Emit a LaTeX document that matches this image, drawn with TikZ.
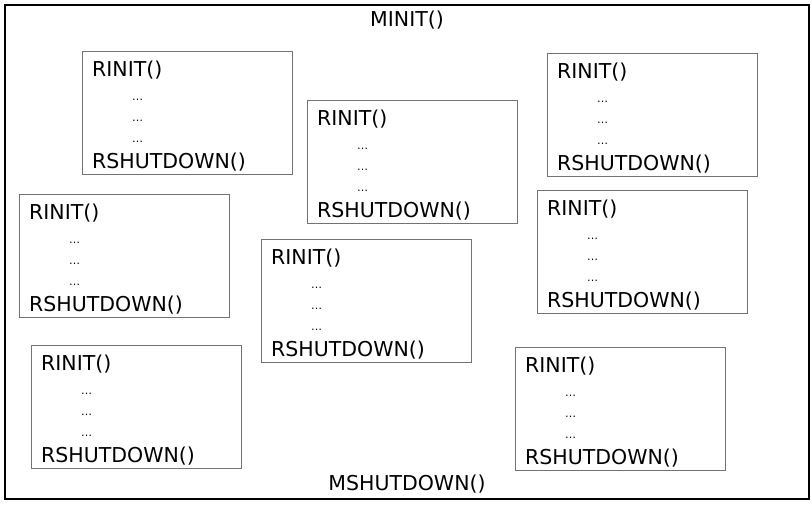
\documentclass[tikz,border=0pt]{standalone}
\usepackage{fontspec}
\setmainfont{DejaVu Sans}

\begin{document}
\begin{tikzpicture}[x=1pt,y=-1pt]
                        \tikzstyle{frame}=[draw=black,line width=2.4pt]
                        \tikzstyle{request}=[draw=black!55,line width=0.9pt,rectangle,anchor=north west,
                                             minimum width=210pt,minimum height=123pt,inner sep=0pt]
                        \tikzstyle{call}=[font=\fontsize{20.5}{22}\selectfont,anchor=base west,inner sep=0pt]
                        \tikzstyle{dots}=[font=\fontsize{11}{12}\selectfont,anchor=base west,inner sep=0pt]
                        \useasboundingbox (0,0) rectangle (812,504);
                        \node[frame,rectangle,anchor=north west,minimum width=804pt,minimum height=494pt,inner sep=0pt]
                            (module) at (4,4) {};
                        \node[call,anchor=base] (minit) at (407,26) {MINIT()};
                        \node[call,anchor=base] (mshutdown) at (407,490) {MSHUTDOWN()};
                        % one box per request
                        \foreach \n/\x/\y in {r1/82/51, r2/307/100, r3/547/53, r4/537/190,
                                              r5/19/194, r6/261/239, r7/31/345, r8/515/347} {
                            \node[request] (\n) at (\x,\y) {};
                            \node[call] (\n-init) at ([shift={(10,25)}]\n.north west) {RINIT()};
                            \node[dots] (\n-a) at ([shift={(50,49)}]\n.north west) {…};
                            \node[dots] (\n-b) at ([shift={(50,70)}]\n.north west) {…};
                            \node[dots] (\n-c) at ([shift={(50,91)}]\n.north west) {…};
                            \node[call] (\n-shutdown) at ([shift={(10,117)}]\n.north west) {RSHUTDOWN()};
                        }
                    \end{tikzpicture}
\end{document}
